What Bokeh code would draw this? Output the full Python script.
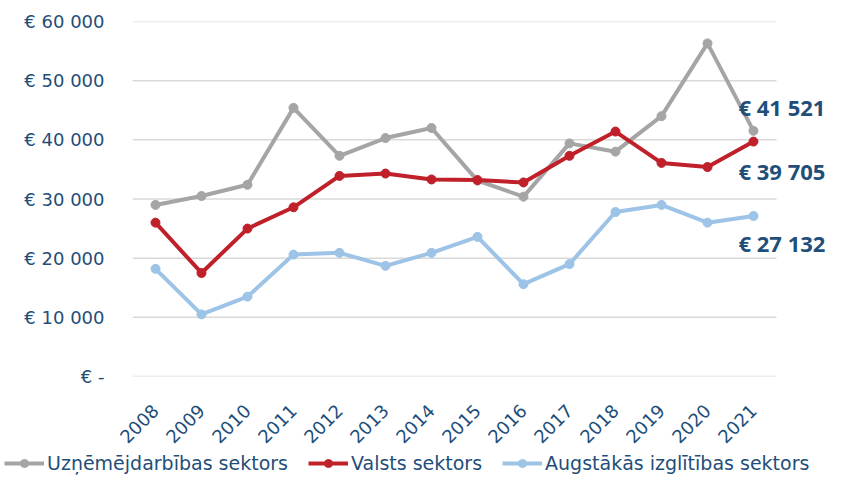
import math
from bokeh.plotting import figure
from bokeh.layouts import column
from bokeh.models import Range1d, FixedTicker, Legend, LegendItem, Label
from bokeh.embed import file_html
from bokeh.resources import INLINE

years = [str(y) for y in range(2008, 2022)]
uzn = [29000, 30500, 32400, 45400, 37300, 40300, 42000, 33100, 30400, 39400, 38000, 44000, 56300, 41521]
valsts = [26000, 17500, 25000, 28600, 33900, 34300, 33300, 33200, 32800, 37300, 41400, 36100, 35400, 39705]
augst = [18200, 10500, 13500, 20600, 20900, 18700, 20900, 23600, 15600, 19000, 27800, 29000, 26000, 27132]
end_labels = ["€ 41 521", "€ 39 705", "€ 27 132"]
end_label_y = [45500, 34700, 22600]
y_ticks = [0, 10000, 20000, 30000, 40000, 50000, 60000]
y_tick_labels = ["€ -", "€ 10 000", "€ 20 000", "€ 30 000", "€ 40 000", "€ 50 000", "€ 60 000"]
series_names = ["Uzņēmējdarbības sektors", "Valsts sektors", "Augstākās izglītības sektors"]

TXT = "#1F4E79"
colors = ["#A5A5A5", "#C0202A", "#9DC3E6"]

xs = list(range(len(years)))

p = figure(width=831, height=452, x_range=Range1d(-0.5, 14.696), y_range=Range1d(0, 60000),
           output_backend="svg", toolbar_location=None,
           min_border_left=132, min_border_right=0, min_border_top=21, min_border_bottom=75)
p.frame_align = False
p.outline_line_color = None
p.xgrid.grid_line_color = None
p.ygrid.grid_line_color = None

# horizontal gridlines limited to the category span
p.segment(x0=[-0.5] * len(y_ticks), x1=[len(years) - 0.5] * len(y_ticks), y0=y_ticks, y1=y_ticks,
          line_color="#D9D9D9", line_width=1.5)

p.xaxis.ticker = FixedTicker(ticks=xs)
p.xaxis.major_label_overrides = {x: y for x, y in zip(xs, years)}
p.yaxis.ticker = FixedTicker(ticks=y_ticks)
p.yaxis.major_label_overrides = {t: l for t, l in zip(y_ticks, y_tick_labels)}
for ax in (p.xaxis, p.yaxis):
    ax.axis_line_color = None
    ax.major_tick_line_color = None
    ax.minor_tick_line_color = None
    ax.major_label_text_color = TXT
p.yaxis.major_label_text_font = "DejaVu Sans"
p.yaxis.major_label_text_font_size = "18px"
p.yaxis.major_label_standoff = 22
p.xaxis.major_label_text_font = "DejaVu Sans"
p.xaxis.major_label_text_font_size = "18px"
p.xaxis.major_label_orientation = math.pi / 4
p.xaxis.major_label_standoff = 25

for vals, c in zip([uzn, valsts, augst], colors):
    p.line(xs, vals, line_color=c, line_width=4)
    p.scatter(xs, vals, size=9, color=c)

for lab, yy in zip(end_labels, end_label_y):
    p.add_layout(Label(x=len(years) - 1, y=yy, x_offset=-15, text=lab,
                       text_font="Open Sans", text_font_style="bold", text_font_size="22px",
                       text_color=TXT, text_baseline="middle", text_align="left"))

# legend strip below the chart (series drawn out of view, only their legend shows)
p2 = figure(width=831, height=24, x_range=Range1d(-0.5, 14.696), y_range=Range1d(-2, -1),
            output_backend="svg", toolbar_location=None,
            x_axis_location=None, y_axis_location=None, min_border=0)
p2.frame_align = False
p2.outline_line_color = None
p2.grid.grid_line_color = None
items = []
for name, vals, c in zip(series_names, [uzn, valsts, augst], colors):
    l = p2.line(xs, vals, line_color=c, line_width=4)
    s = p2.scatter(xs, vals, size=9, color=c)
    items.append(LegendItem(label=name, renderers=[l, s]))
legend = Legend(items=items, orientation="horizontal", location=(4, 2),
                label_text_font="DejaVu Sans", label_text_font_size="19px",
                label_text_color=TXT, glyph_width=40, glyph_height=20, label_height=20,
                spacing=20, label_standoff=3, padding=0, margin=0,
                border_line_color=None, background_fill_alpha=0)
p2.add_layout(legend, "center")

layout = column(p, p2, spacing=0)
open("out.html", "w").write(file_html(layout, INLINE))
